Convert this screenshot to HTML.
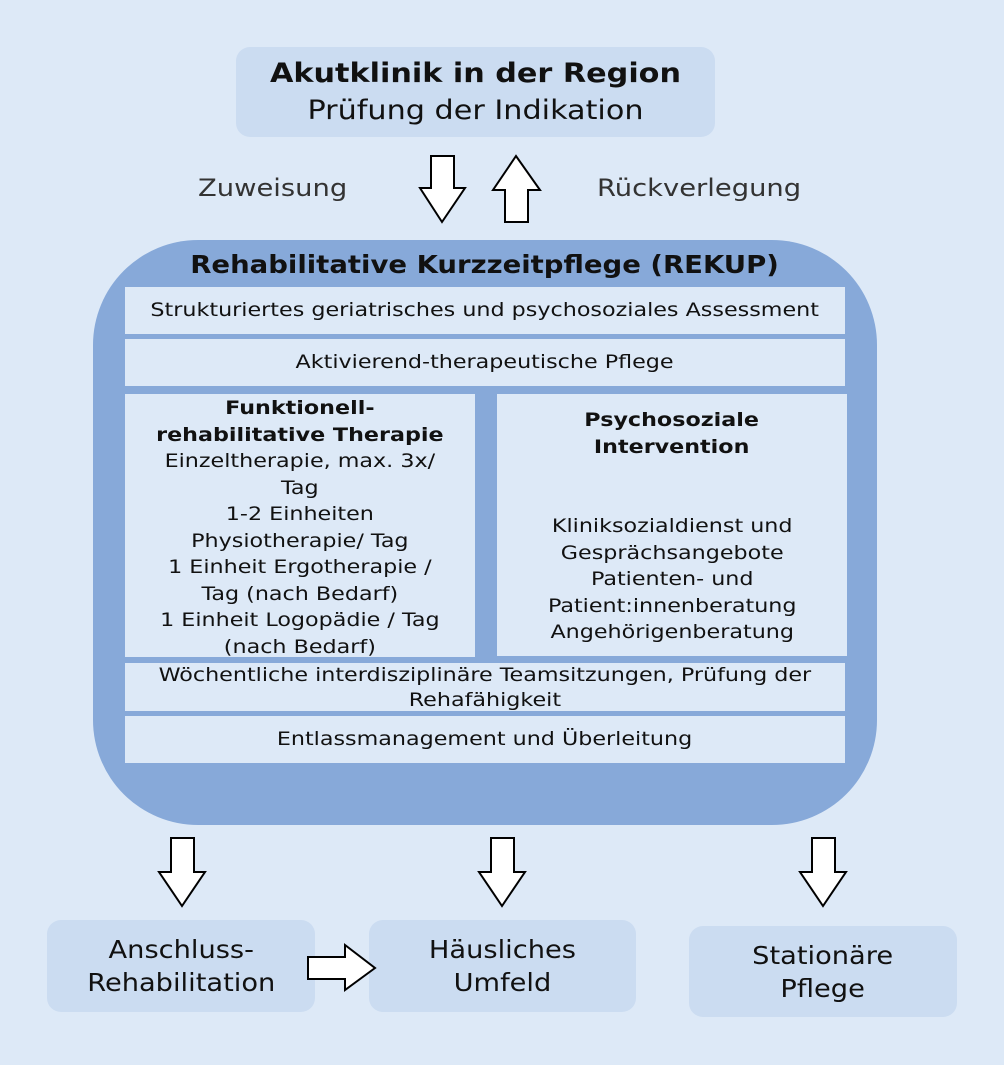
<!DOCTYPE html>
<html><head><meta charset="utf-8"><style>
body{margin:0;width:1004px;height:1065px;background:#dde9f7;font-family:"DejaVu Sans",Verdana,sans-serif;position:relative;overflow:hidden;color:#111}
.b{position:absolute;background:#cbdcf1;border-radius:14px;text-align:center;display:flex;flex-direction:column;justify-content:center;align-items:center}
.p{position:absolute;background:#dde9f7;text-align:center;font-size:19px;color:#111}
.big{position:absolute;left:93px;top:240px;width:784px;height:585px;background:#87a9d9;border-radius:105px}
.s{display:inline-block;transform:scaleX(1.12);transform-origin:center}
.t{display:inline-block;transform:scaleX(1.17);transform-origin:center;white-space:nowrap}
svg{position:absolute;left:0;top:0}
</style></head><body>
<div class="b" style="left:236px;top:47px;width:479px;height:90px;font-size:27px;line-height:37px"><span class="s"><b>Akutklinik in der Region</b><br>Prüfung der Indikation</span></div>
<div style="position:absolute;left:198px;top:174px;font-size:24px;color:#333;transform:scaleX(1.14);transform-origin:left">Zuweisung</div>
<div style="position:absolute;left:597px;top:174px;font-size:24px;color:#333;transform:scaleX(1.14);transform-origin:left">Rückverlegung</div>
<div class="big"></div>
<div style="position:absolute;left:93px;top:250px;width:784px;text-align:center;font-size:25px;font-weight:bold"><span class="s" style="transform:scaleX(1.1)">Rehabilitative Kurzzeitpflege (REKUP)</span></div>
<div class="p" style="left:125px;top:287px;width:720px;height:47px;line-height:47px"><span class="t">Strukturiertes geriatrisches und psychosoziales Assessment</span></div>
<div class="p" style="left:125px;top:339px;width:720px;height:47px;line-height:47px"><span class="t">Aktivierend-therapeutische Pflege</span></div>
<div class="p" style="left:125px;top:394px;width:350px;height:262px;line-height:26.5px;padding-top:1px"><span class="t"><b>Funktionell-<br>rehabilitative Therapie</b><br>Einzeltherapie, max. 3x/<br>Tag<br>1-2 Einheiten<br>Physiotherapie/ Tag<br>1 Einheit Ergotherapie /<br>Tag (nach Bedarf)<br>1 Einheit Logopädie / Tag<br>(nach Bedarf)</span></div>
<div class="p" style="left:497px;top:394px;width:350px;height:262px;line-height:26.5px"><div style="padding-top:13px"><span class="t"><b>Psychosoziale<br>Intervention</b></span></div><div style="padding-top:53px"><span class="t">Kliniksozialdienst und<br>Gesprächsangebote<br>Patienten- und<br>Patient:innenberatung<br>Angehörigenberatung</span></div></div>
<div class="p" style="left:125px;top:663px;width:720px;height:48px;line-height:25px"><span class="t">Wöchentliche interdisziplinäre Teamsitzungen, Prüfung der<br>Rehafähigkeit</span></div>
<div class="p" style="left:125px;top:716px;width:720px;height:47px;line-height:47px"><span class="t">Entlassmanagement und Überleitung</span></div>
<div class="b" style="left:47px;top:920px;width:268px;height:92px;font-size:25px;line-height:33px"><span class="s" style="transform:scaleX(1.09)">Anschluss-<br>Rehabilitation</span></div>
<div class="b" style="left:369px;top:920px;width:267px;height:92px;font-size:25px;line-height:33px"><span class="s" style="transform:scaleX(1.09)">Häusliches<br>Umfeld</span></div>
<div class="b" style="left:689px;top:926px;width:268px;height:91px;font-size:25px;line-height:33px"><span class="s" style="transform:scaleX(1.09)">Stationäre<br>Pflege</span></div>
<svg width="1004" height="1065" fill="#fff" stroke="#000" stroke-width="2">
<polygon points="431,156 454,156 454,188 465,188 442,222 420,188 431,188"/>
<polygon points="505,222 528,222 528,190 540,190 516,156 493,190 505,190"/>
<polygon points="171,838 194,838 194,872 205,872 182,906 159,872 171,872"/>
<polygon points="491,838 514,838 514,872 525,872 502,906 479,872 491,872"/>
<polygon points="812,838 835,838 835,872 846,872 823,906 800,872 812,872"/>
<polygon points="308,957 345,957 345,945 375,968 345,990 345,979 308,979"/>
</svg>
</body></html>
